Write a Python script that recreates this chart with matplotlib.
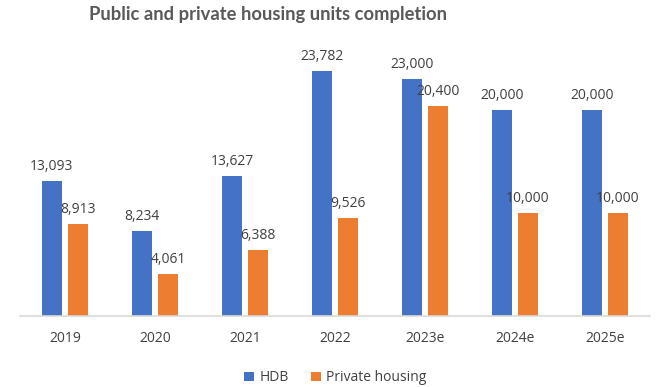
import numpy as np
import matplotlib.pyplot as plt

# Housing completions per year (units)
years = ['2019', '2020', '2021', '2022', '2023e', '2024e', '2025e']
hdb = [13093, 8234, 13627, 23782, 23000, 20000, 20000]
private = [8913, 4061, 6388, 9526, 20400, 10000, 10000]

blue = '#4472C4'
orange = '#ED7D31'
text_grey = '#404040'

plt.rcParams['font.family'] = ['Open Sans', 'DejaVu Sans']

fig = plt.figure(figsize=(6.58, 3.87), dpi=100)
ax = fig.add_axes([20 / 658, 71 / 387, 630 / 658, 268 / 387])

x = np.arange(len(years))
w = 0.22
gap = 0.035
b1 = ax.bar(x - w / 2 - gap, hdb, w, color=blue, label='HDB')
b2 = ax.bar(x + w / 2 + gap, private, w, color=orange, label='Private housing')

for bars, vals in ((b1, hdb), (b2, private)):
    for bar, v in zip(bars, vals):
        ax.annotate(f'{v:,}', (bar.get_x() + bar.get_width() / 2, v),
                    xytext=(0, 5), textcoords='offset points',
                    ha='center', va='bottom', fontsize=10, color=text_grey)

ax.set_xlim(-0.5, len(years) - 0.5)
ax.set_ylim(0, 26000)
ax.set_xticks(x)
ax.set_xticklabels(years, fontsize=10, color=text_grey)
ax.tick_params(axis='x', length=0, pad=11)
ax.set_yticks([])
for s in ('top', 'right', 'left'):
    ax.spines[s].set_visible(False)
ax.spines['bottom'].set_color('#D9D9D9')
ax.spines['bottom'].set_linewidth(1.2)

fig.suptitle('Public and private housing units completion', x=268 / 658, y=0.985,
             fontsize=13.2, fontweight='bold', color='#595959', family='Lato')

fig.legend(loc='lower center', bbox_to_anchor=(0.51, -0.028), ncol=2, frameon=False,
           fontsize=10, handlelength=0.7, handleheight=0.7, handletextpad=0.4,
           columnspacing=1.6, labelcolor=text_grey)

fig.savefig('out.png', dpi=100)
